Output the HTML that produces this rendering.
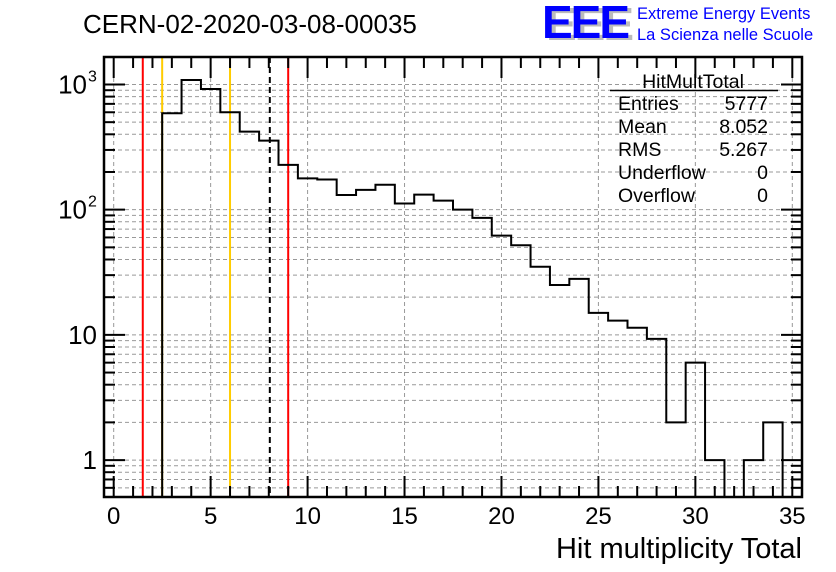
<!DOCTYPE html>
<html><head><meta charset="utf-8"><style>
body{margin:0;background:#fff;}
svg{display:block;font-family:"Liberation Sans",Arial,sans-serif;}
</style></head><body>
<svg id="chart" width="836" height="572" viewBox="0 0 836 572">
<rect width="836" height="572" fill="#fff"/>
<text x="83" y="33" font-size="26">CERN-02-2020-03-08-00035</text>
<g>
<text x="546" y="40" font-size="46" font-weight="bold" fill="#bbb" letter-spacing="-2">EEE</text>
<text x="542" y="38" font-size="46" font-weight="bold" fill="#0000ff" letter-spacing="-2">EEE</text>
<text x="637" y="19" font-size="16.5" fill="#0000ff">Extreme Energy Events</text>
<text x="637" y="40" font-size="16.5" fill="#0000ff">La Scienza nelle Scuole</text>
</g>
<g id="grid"></g>
<g id="lines"></g>
<path id="hist" fill="none" stroke="#000" stroke-width="2"/>
<g id="axes"></g>
<g font-size="19.5">
<text x="693" y="88" text-anchor="middle">HitMultTotal</text>
<line x1="610" y1="90.5" x2="778" y2="90.5" stroke="#000" stroke-width="1.5"/>
<text x="618" y="110">Entries</text><text x="768" y="110" text-anchor="end">5777</text>
<text x="618" y="133">Mean</text><text x="768" y="133" text-anchor="end">8.052</text>
<text x="618" y="156">RMS</text><text x="768" y="156" text-anchor="end">5.267</text>
<text x="618" y="179">Underflow</text><text x="768" y="179" text-anchor="end">0</text>
<text x="618" y="202">Overflow</text><text x="768" y="202" text-anchor="end">0</text>
</g>
<text x="802" y="558" font-size="29" text-anchor="end">Hit multiplicity Total</text>
</svg>
<script>
const binCenters=[0,1,2,3,4,5,6,7,8,9,10,11,12,13,14,15,16,17,18,19,20,21,22,23,24,25,26,27,28,29,30,31,32,33,34];
const counts=[0,0,0,589,1086,920,600,420,356,228,178,174,131,144,158,112,132,118,100,86,62,52,35,25,28,15,13,11.4,9.3,2,6,1,0,1,2];
const xTicks=[0,5,10,15,20,25,30,35];
const redLines=[1.5,9];
const orangeLines=[2.5,6];
const meanLine=[8.052];
const NS="http://www.w3.org/2000/svg";
const L=104,R=802,T=57,B=497;
const X0=-0.5,X1=35.5,YMIN=Math.log10(0.507),YMAX=3+27.5/125.3;
const xs=v=>L+(v-X0)/(X1-X0)*(R-L);
const ys=v=>B-(Math.log10(v)-YMIN)/(YMAX-YMIN)*(B-T);
function mk(tag,attrs,parent){const e=document.createElementNS(NS,tag);for(const k in attrs)e.setAttribute(k,attrs[k]);parent.appendChild(e);return e;}
const grid=document.getElementById('grid'),axes=document.getElementById('axes'),lines=document.getElementById('lines');
xTicks.forEach(t=>{if(t<=X1){const g=mk('line',{x1:xs(t),x2:xs(t),y1:T,y2:B,stroke:'#999','stroke-dasharray':'4,3','stroke-width':1},grid);
}});
for(let d=-1;d<=3;d++)for(let m=1;m<=9;m++){const v=m*Math.pow(10,d);if(v<0.507||v>Math.pow(10,YMAX))continue;
const g=mk('line',{x1:L,x2:R,y1:ys(v),y2:ys(v),stroke:'#999','stroke-dasharray':'4,3','stroke-width':1},grid);

const t1=mk('line',{x1:L,x2:L+(m===1?21:11),y1:ys(v),y2:ys(v),stroke:'#000','stroke-width':2},axes);

const t2=mk('line',{x1:R,x2:R-(m===1?21:11),y1:ys(v),y2:ys(v),stroke:'#000','stroke-width':2},axes);
}
function vline(v,color,dash,name){const l=mk('line',{x1:xs(v),x2:xs(v),y1:T,y2:B,stroke:color,'stroke-width':2},lines);if(dash)l.setAttribute('stroke-dasharray',dash);
}
redLines.forEach(v=>vline(v,'#ff0000',null,'red-line'));
orangeLines.forEach(v=>vline(v,'#ffcc00',null,'orange-line'));
meanLine.forEach(v=>vline(v,'#000',"6,4",'mean-line'));
let d='',started=false,lastX=0;
binCenters.forEach((c,i)=>{const v=counts[i];const x0=xs(c-0.5),x1=xs(c+0.5);
const y=v>0?Math.max(ys(v),T):B;
if(v<=0&&!started)return;
if(!started){d+=`M${x0},${B} `;started=true;}
d+=`L${x0},${y} L${x1},${y} `;lastX=x1;});
d+=`L${lastX},${B}`;
document.getElementById('hist').setAttribute('d',d);
for(let t=0;t<=35;t++){const big=t%5===0;
const a=mk('line',{x1:xs(t),x2:xs(t),y1:B,y2:B-(big?21:11),stroke:'#000','stroke-width':2},axes);

const b=mk('line',{x1:xs(t),x2:xs(t),y1:T,y2:T+(big?21:11),stroke:'#000','stroke-width':2},axes);
}
xTicks.forEach(t=>{const tx=mk('text',{x:xs(t),y:524,'font-size':24,'text-anchor':'middle'},axes);tx.textContent=t;
});
[[1,'1'],[10,'10'],[100,'10'],[1000,'10']].forEach(([v,s],i)=>{const tx=mk('text',{x:i>=2?87:97,y:ys(v)+9,'font-size':26,'text-anchor':'end'},axes);tx.textContent=s;

if(i>=2){const e=mk('text',{x:88,y:ys(v)-3,'font-size':16},axes);e.textContent=i===2?'2':'3';
}});
const f=mk('rect',{x:L,y:T,width:R-L,height:B-T,fill:'none',stroke:'#000','stroke-width':2.5},axes);

</script>
</body></html>
